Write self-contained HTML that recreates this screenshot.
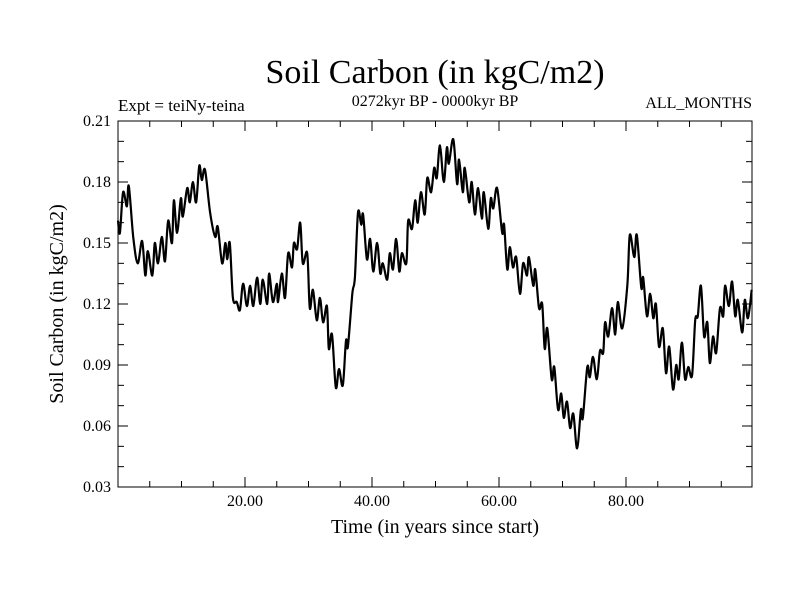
<!DOCTYPE html>
<html><head><meta charset="utf-8"><style>
html,body{margin:0;padding:0;background:#fff;}
svg text{font-family:"Liberation Serif",serif;fill:#000;}
</style></head><body>
<svg id="chart" width="800" height="600" viewBox="0 0 800 600" xmlns="http://www.w3.org/2000/svg">
<rect width="800" height="600" fill="#fff"/>
<text x="435" y="83" font-size="34" text-anchor="middle">Soil Carbon (in kgC/m2)</text>
<text x="435" y="106" font-size="16" text-anchor="middle">0272kyr BP - 0000kyr BP</text>
<text x="118" y="111" font-size="17">Expt = teiNy-teina</text>
<text x="752" y="108" font-size="16" text-anchor="end">ALL_MONTHS</text>
<text transform="translate(63,304) rotate(-90)" font-size="20" text-anchor="middle">Soil Carbon (in kgC/m2)</text>
<text x="435" y="533" font-size="20" text-anchor="middle">Time (in years since start)</text>
<g id="axes"></g>
<path id="series" fill="none" stroke="#000" stroke-width="2.2" stroke-linejoin="round"/>
<rect x="118" y="121" width="634" height="366" fill="none" stroke="#000" stroke-width="1"/>
</svg>
<script>
const yTickLabels = ["0.03","0.06","0.09","0.12","0.15","0.18","0.21"];
const yTickValues = [0.03,0.06,0.09,0.12,0.15,0.18,0.21];
const xTickLabels = ["20.00","40.00","60.00","80.00"];
const xTickValues = [20,40,60,80];
const timeYears = [0,0.3,0.8,1.4,1.7,2.4,3.1,3.8,4.3,4.7,5.4,5.8,6.3,6.9,7.4,7.9,8.5,8.8,9.3,9.9,10.2,10.9,11.3,11.8,12.3,12.8,13.2,13.7,14.5,15.3,15.7,16.4,16.9,17.2,17.6,18.1,18.7,19.2,19.7,20.3,20.8,21.3,21.9,22.4,22.8,23.5,23.8,24.4,25.0,25.2,25.8,26.3,26.8,27.4,27.7,28.2,28.7,29.1,29.8,30.2,30.7,31.3,31.8,32.3,32.9,33.2,33.7,34.3,34.8,35.4,35.9,36.2,36.9,37.3,37.8,38.3,38.6,39.2,39.7,40.2,40.8,41.3,41.7,42.4,42.8,43.3,43.8,44.3,44.7,45.4,45.7,46.3,46.8,47.2,47.7,48.3,48.7,49.3,49.8,50.2,50.7,51.3,51.8,52.1,52.8,53.4,53.7,54.3,54.6,55.3,55.7,56.2,56.7,57.3,57.6,58.3,58.7,59.1,59.7,60.5,60.8,61.3,61.7,62.2,62.7,63.3,63.8,64.4,64.7,65.4,65.7,66.3,66.8,67.2,67.6,68.3,68.7,69.3,69.8,70.2,70.7,71.2,71.7,72.3,72.9,73.2,73.9,74.3,74.8,75.4,75.9,76.4,76.7,77.2,77.8,78.3,78.7,79.4,80.2,80.6,81.3,81.7,82.4,82.7,83.3,83.8,84.3,84.7,85.2,85.8,86.3,86.8,87.4,87.9,88.3,88.8,89.3,89.8,90.4,90.9,91.3,91.8,92.3,92.8,93.2,93.7,94.2,94.8,95.3,95.6,96.2,96.7,97.2,97.6,98.3,98.7,99.2,99.8];
const soilCarbon = [0.161,0.155,0.175,0.168,0.178,0.153,0.140,0.151,0.134,0.146,0.134,0.150,0.140,0.153,0.141,0.161,0.150,0.171,0.155,0.172,0.163,0.177,0.170,0.180,0.170,0.188,0.181,0.186,0.165,0.153,0.158,0.140,0.150,0.142,0.150,0.123,0.121,0.117,0.130,0.119,0.129,0.119,0.133,0.120,0.132,0.120,0.135,0.121,0.130,0.121,0.135,0.123,0.145,0.138,0.150,0.147,0.160,0.140,0.145,0.118,0.127,0.112,0.123,0.111,0.119,0.098,0.105,0.079,0.088,0.080,0.102,0.099,0.125,0.133,0.165,0.159,0.164,0.142,0.152,0.136,0.150,0.135,0.140,0.132,0.145,0.137,0.152,0.136,0.145,0.140,0.161,0.157,0.171,0.160,0.175,0.164,0.182,0.175,0.187,0.182,0.198,0.180,0.197,0.189,0.201,0.179,0.191,0.175,0.187,0.170,0.180,0.164,0.177,0.162,0.175,0.157,0.172,0.167,0.177,0.155,0.159,0.137,0.148,0.138,0.143,0.125,0.140,0.134,0.143,0.129,0.137,0.118,0.120,0.098,0.108,0.083,0.089,0.068,0.076,0.064,0.072,0.059,0.066,0.049,0.068,0.064,0.089,0.084,0.094,0.083,0.097,0.096,0.111,0.104,0.118,0.105,0.121,0.108,0.129,0.154,0.143,0.154,0.128,0.133,0.114,0.125,0.113,0.120,0.099,0.108,0.086,0.099,0.078,0.090,0.083,0.101,0.083,0.089,0.085,0.112,0.114,0.129,0.104,0.111,0.091,0.104,0.096,0.118,0.114,0.129,0.119,0.131,0.114,0.122,0.106,0.122,0.113,0.127];

const X0=118, X1=752, Y0=487, Y1=121;
const xMin=0, xMax=99.84, yMin=0.03, yMax=0.21;
function xs(t){return X0+(t-xMin)/(xMax-xMin)*(X1-X0);}
function ys(v){return Y0-(v-yMin)/(yMax-yMin)*(Y0-Y1);}
const NS="http://www.w3.org/2000/svg";
const axes=document.getElementById('axes');
function line(x1,y1,x2,y2,name){
  const l=document.createElementNS(NS,'line');
  l.setAttribute('x1',x1);l.setAttribute('y1',y1);l.setAttribute('x2',x2);l.setAttribute('y2',y2);
  l.setAttribute('stroke','#000');l.setAttribute('stroke-width','1');
  
  
  axes.appendChild(l);
}
function text(x,y,s,anchor,name){
  const t=document.createElementNS(NS,'text');
  t.setAttribute('x',x);t.setAttribute('y',y);t.setAttribute('font-size','16');t.setAttribute('text-anchor',anchor);
  t.textContent=s;
  
  
  axes.appendChild(t);
}
for(let v=0.03; v<=0.2101; v+=0.01){
  const y=ys(v);
  line(X0,y,X0+6,y,'y-minor-tick');
  line(X1-6,y,X1,y,'y-minor-tick');
}
for(let t=5; t<xMax; t+=5){
  const x=xs(t);
  line(x,Y0,x,Y0-6,'x-minor-tick');
  line(x,Y1,x,Y1+6,'x-minor-tick');
}
yTickValues.forEach((v,i)=>{
  const y=ys(v);
  line(X0,y,X0+10,y,'y-major-tick');
  line(X1-10,y,X1,y,'y-major-tick');
  text(X0-7,y+5,yTickLabels[i],'end','y-tick-label');
});
xTickValues.forEach((t,i)=>{
  const x=xs(t);
  line(x,Y0,x,Y0-10,'x-major-tick');
  line(x,Y1,x,Y1+10,'x-major-tick');
  text(x,Y0+19,xTickLabels[i],'middle','x-tick-label');
});
// smooth Catmull-Rom path through data points
const pts=timeYears.map((t,i)=>[xs(t),ys(soilCarbon[i])]);
let d='M'+pts[0][0].toFixed(1)+','+pts[0][1].toFixed(1);
for(let i=0;i<pts.length-1;i++){
  const p0=pts[Math.max(0,i-1)],p1=pts[i],p2=pts[i+1],p3=pts[Math.min(pts.length-1,i+2)];
  const c1x=p1[0]+(p2[0]-p0[0])/6,c1y=p1[1]+(p2[1]-p0[1])/6;
  const c2x=p2[0]-(p3[0]-p1[0])/6,c2y=p2[1]-(p3[1]-p1[1])/6;
  d+='C'+c1x.toFixed(1)+','+c1y.toFixed(1)+' '+c2x.toFixed(1)+','+c2y.toFixed(1)+' '+p2[0].toFixed(1)+','+p2[1].toFixed(1);
}
document.getElementById('series').setAttribute('d',d);
</script>
</body></html>
